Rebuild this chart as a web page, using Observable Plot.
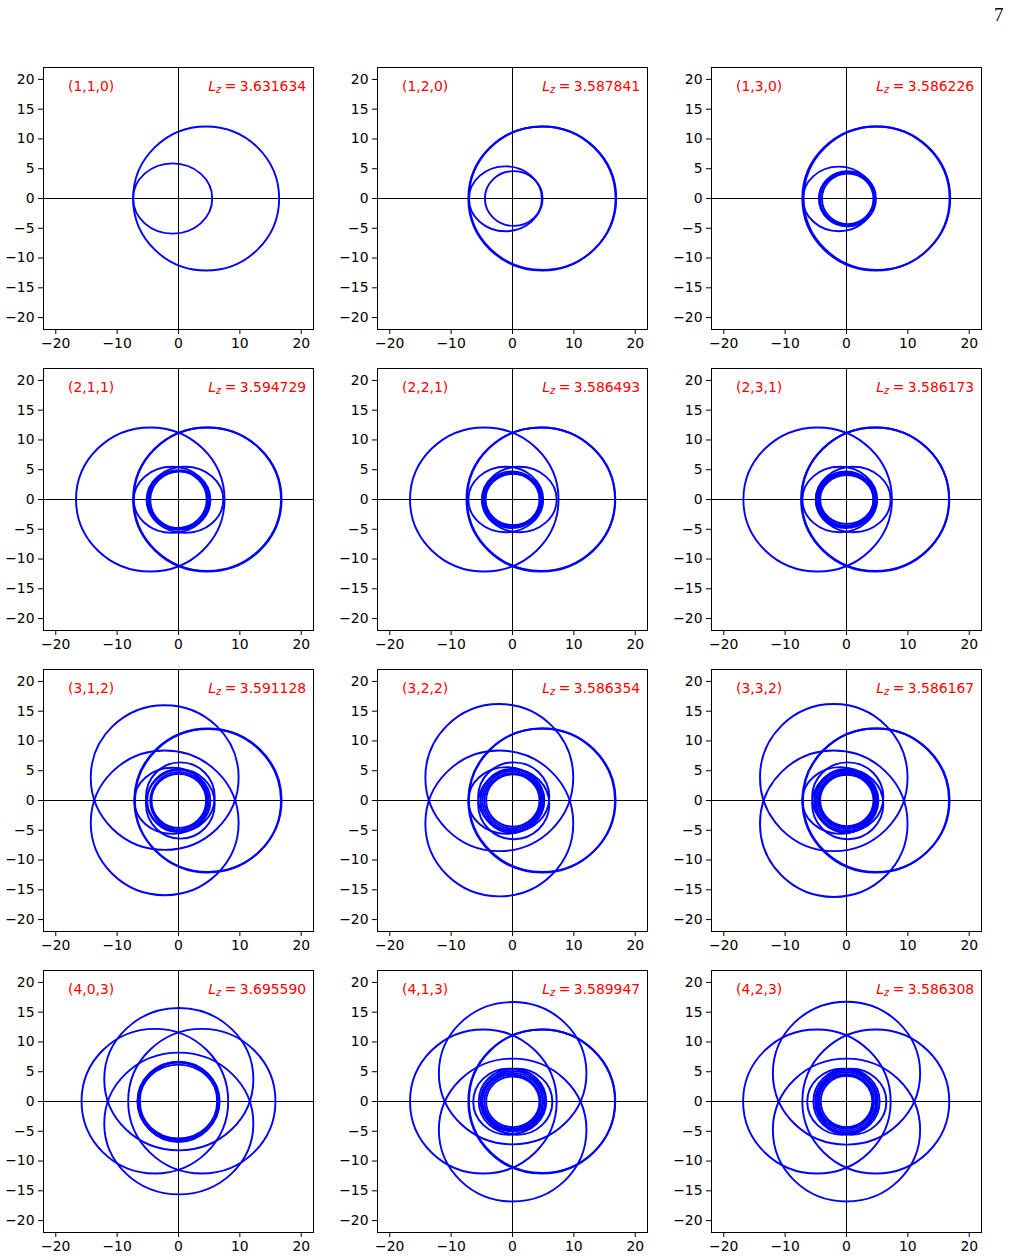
<!DOCTYPE html>
<html>
<head>
<meta charset="utf-8">
<script src="https://cdn.jsdelivr.net/npm/d3@7"></script>
<script src="https://cdn.jsdelivr.net/npm/@observablehq/plot@0.6"></script>
<style>
  html, body { margin: 0; padding: 0; background: #fff; }
  #page { position: relative; width: 1011px; height: 1259px; overflow: hidden; background: #fff; }
  #page .panel { position: absolute; }
  #pageno { position: absolute; left: 994px; top: 4px; font-family: "Liberation Serif", "DejaVu Serif", serif; font-size: 19px; color: #000; }
</style>
</head>
<body>
<div id="page"><div id="pageno">7</div></div>
<script>
// Orbit labels (quantum numbers) and angular momentum values, one per panel
const panelLabels = ["(1,1,0)", "(1,2,0)", "(1,3,0)",
                     "(2,1,1)", "(2,2,1)", "(2,3,1)",
                     "(3,1,2)", "(3,2,2)", "(3,3,2)",
                     "(4,0,3)", "(4,1,3)", "(4,2,3)"];
const lzValues = [3.631634, 3.587841, 3.586226,
                  3.594729, 3.586493, 3.586173,
                  3.591128, 3.586354, 3.586167,
                  3.695590, 3.589947, 3.586308];

const xTicks = [-20, -10, 0, 10, 20];
const yTicks = [-20, -15, -10, -5, 0, 5, 10, 15, 20];

// Each orbit loop as its extent: [xmin, xmax, ymin, ymax]
const loops110 = [
  [-7.4, 16.4, -12.1, 12.1],
  [-7.4, 5.5, -5.9, 5.9]
];
const loops120 = [
  [-7.2, 16.8, -12.1, 12.1],
  [-7.1, 16.9, -12.0, 12.1],
  [-7.1, 4.8, -5.5, 5.4],
  [-4.5, 4.9, -4.6, 4.6]
];
const loops130 = [
  [-7.2, 16.8, -12.1, 12.1],
  [-7.0, 16.9, -12.0, 12.1],
  [-7.1, 4.6, -5.5, 5.35],
  [-4.5, 4.8, -4.7, 4.6],
  [-4.3, 4.6, -4.5, 4.4],
  [-4.0, 4.4, -4.3, 4.2]
];
const loops211 = [
  [-16.7, 7.5, -12.1, 12.1],
  [-7.4, 16.8, -12.1, 12.1],
  [-7.3, 16.7, -12.0, 12.1],
  [-7.3, 5.2, -5.6, 5.5],
  [-5.2, 7.3, -5.6, 5.5],
  [-5.0, 4.6, -4.8, 4.8],
  [-4.6, 5.0, -4.9, 4.7],
  [-4.8, 4.8, -5.1, 4.9]
];
const loops221 = [
  [-16.7, 7.5, -12.1, 12.1],
  [-7.5, 16.75, -12.1, 12.1],
  [-7.4, 16.7, -12.0, 12.1],
  [-7.2, 5.0, -5.5, 5.5],
  [-5.0, 7.2, -5.5, 5.5],
  [-4.9, 4.7, -4.8, 4.7],
  [-4.6, 4.9, -4.6, 4.5],
  [-4.4, 4.6, -4.3, 4.3],
  [-4.7, 4.4, -4.5, 4.4]
];
const loops231 = [
  [-16.8, 7.4, -12.1, 12.1],
  [-7.4, 16.75, -12.1, 12.1],
  [-7.3, 16.7, -12.0, 12.1],
  [-7.2, 5.0, -5.5, 5.5],
  [-5.0, 7.2, -5.5, 5.5],
  [-5.0, 4.8, -4.8, 4.7],
  [-4.7, 4.9, -4.6, 4.5],
  [-4.5, 4.6, -4.4, 4.3],
  [-4.3, 4.4, -4.1, 4.1],
  [-4.8, 4.4, -4.5, 4.4]
];
const loops312 = [
  [-7.2, 16.8, -12.0, 12.1],
  [-7.1, 16.7, -12.1, 12.0],
  [-14.3, 9.8, -8.3, 16.0],
  [-14.3, 9.8, -15.9, 8.4],
  [-7.2, 5.2, -5.6, 5.5],
  [-5.3, 5.9, -6.4, 5.2],
  [-5.3, 5.9, -5.2, 6.4],
  [-5.1, 4.9, -5.3, 5.2],
  [-4.6, 4.7, -4.9, 4.8],
  [-4.4, 4.5, -4.6, 4.5]
];
const loops322 = [
  [-7.2, 16.7, -12.1, 12.1],
  [-7.1, 16.8, -12.0, 12.1],
  [-14.2, 9.9, -8.5, 16.2],
  [-14.2, 9.9, -16.1, 8.4],
  [-7.2, 5.2, -5.6, 5.6],
  [-5.6, 6.0, -6.5, 5.2],
  [-5.6, 6.0, -5.2, 6.4],
  [-5.2, 5.0, -5.4, 5.3],
  [-4.9, 4.8, -5.0, 4.9],
  [-4.6, 4.6, -4.7, 4.6],
  [-4.3, 4.4, -4.4, 4.4]
];
const loops332 = [
  [-7.2, 16.7, -12.1, 12.1],
  [-7.1, 16.8, -12.0, 12.1],
  [-14.1, 9.95, -8.5, 16.2],
  [-14.1, 9.95, -16.2, 8.4],
  [-7.2, 5.2, -5.6, 5.6],
  [-5.6, 6.0, -6.5, 5.2],
  [-5.6, 6.0, -5.2, 6.4],
  [-5.2, 5.0, -5.4, 5.3],
  [-5.0, 4.9, -5.1, 5.0],
  [-4.7, 4.7, -4.8, 4.7],
  [-4.5, 4.5, -4.5, 4.5],
  [-4.3, 4.4, -4.3, 4.3]
];
const loops403 = [
  [-12.1, 12.2, -8.2, 15.7],
  [-12.1, 12.2, -15.6, 8.2],
  [-8.2, 15.8, -12.1, 12.2],
  [-15.8, 8.1, -12.1, 12.2],
  [-6.7, 6.3, -6.5, 6.6],
  [-6.3, 6.7, -6.5, 6.6],
  [-6.5, 6.5, -6.8, 6.2],
  [-6.5, 6.5, -6.2, 6.7]
];
const loops413 = [
  [-12.0, 12.05, -7.2, 16.7],
  [-12.0, 12.05, -16.8, 7.2],
  [-7.2, 16.7, -12.1, 12.1],
  [-7.1, 16.75, -12.0, 12.1],
  [-16.7, 7.2, -12.1, 12.1],
  [-6.4, 5.0, -5.6, 5.5],
  [-5.0, 6.5, -5.6, 5.5],
  [-5.5, 5.5, -5.4, 5.5],
  [-5.2, 5.3, -5.0, 5.1],
  [-4.9, 4.9, -4.8, 4.8],
  [-4.6, 4.6, -4.6, 4.5],
  [-4.3, 4.4, -4.3, 4.2]
];
const loops423 = [
  [-12.0, 12.0, -7.25, 16.75],
  [-12.0, 12.0, -16.8, 7.2],
  [-7.2, 16.75, -12.1, 12.1],
  [-16.85, 7.2, -12.1, 12.1],
  [-6.4, 5.0, -5.6, 5.5],
  [-5.0, 6.5, -5.6, 5.5],
  [-5.4, 5.4, -5.5, 5.5],
  [-5.1, 5.1, -5.2, 5.2],
  [-4.8, 4.8, -4.9, 4.9],
  [-4.5, 4.5, -4.6, 4.6],
  [-4.2, 4.2, -4.3, 4.3],
  [-4.7, 4.4, -4.4, 4.5]
];

const panelLoops = [loops110, loops120, loops130,
                    loops211, loops221, loops231,
                    loops312, loops322, loops332,
                    loops403, loops413, loops423];

// Frame geometry of the 3 x 4 grid of axes (pixels)
const colLeft = [43.3, 377.3, 711];
const rowTop = [66.7, 368, 669.3, 970.3];
const frameW = 270, frameH = 262;
const M = {left: 46, right: 8, top: 8, bottom: 30};

// Each loop passes through its four extreme points; a cardinal spline with
// tension -0.657 through them traces an ellipse.
function loopRows(loops) {
  return loops.flatMap(([x0, x1, y0, y1], i) => {
    const xm = (x0 + x1) / 2, ym = (y0 + y1) / 2;
    return [
      {loop: i, x: x0, y: ym},
      {loop: i, x: xm, y: y1},
      {loop: i, x: x1, y: ym},
      {loop: i, x: xm, y: y0}
    ];
  });
}

const page = document.getElementById("page");
const font = "DejaVu Sans";

panelLabels.forEach((label, k) => {
  const col = k % 3, row = Math.floor(k / 3);
  const plot = Plot.plot({
    width: frameW + M.left + M.right,
    height: frameH + M.top + M.bottom,
    marginLeft: M.left, marginRight: M.right, marginTop: M.top, marginBottom: M.bottom,
    style: {fontFamily: font, fontSize: "13.9px", background: "transparent", color: "#000", overflow: "visible"},
    x: {domain: [-22, 22], ticks: xTicks, tickSize: 5, tickPadding: 3.5, label: null},
    y: {domain: [-22, 22], ticks: yTicks, tickSize: 5, tickPadding: 4, label: null},
    marks: [
      Plot.ruleX([0], {stroke: "#000", strokeWidth: 1}),
      Plot.ruleY([0], {stroke: "#000", strokeWidth: 1}),
      Plot.line(loopRows(panelLoops[k]), {
        x: "x", y: "y", z: "loop",
        curve: "cardinal-closed", tension: -0.657,
        stroke: "#0000ff", strokeWidth: 1.9
      }),
      Plot.text([label], {
        x: -18, y: 18.75, text: d => d,
        textAnchor: "start", fill: "#ff0000", fontSize: 13.9, fontFamily: font
      }),
      Plot.text([lzValues[k]], {
        x: 20.8, y: 18.75, text: d => "L_z = " + d.toFixed(6),
        textAnchor: "end", fill: "#ff0000", fontSize: 13.9, fontFamily: font
      }),
      Plot.frame({stroke: "#000", strokeWidth: 1})
    ]
  });

  // Typeset the angular momentum label as L with an italic subscript z
  plot.querySelectorAll("text").forEach(t => {
    const s = t.textContent;
    if (!s.startsWith("L_z = ")) return;
    const num = s.slice(6);
    while (t.firstChild) t.removeChild(t.firstChild);
    const ns = "http://www.w3.org/2000/svg";
    const parts = [
      {txt: "L", attrs: {"font-style": "italic"}},
      {txt: "z", attrs: {"font-style": "italic", "font-size": "9.7px", dy: "2"}},
      {txt: "=", attrs: {dx: "3.5", dy: "-2"}},
      {txt: num, attrs: {dx: "3.5"}}
    ];
    for (const p of parts) {
      const ts = document.createElementNS(ns, "tspan");
      for (const [a, v] of Object.entries(p.attrs)) ts.setAttribute(a, v);
      ts.textContent = p.txt;
      t.appendChild(ts);
    }
  });

  plot.classList.add("panel");
  plot.style.left = (colLeft[col] - M.left) + "px";
  plot.style.top = (rowTop[row] - M.top) + "px";
  page.appendChild(plot);
});
</script>
</body>
</html>
